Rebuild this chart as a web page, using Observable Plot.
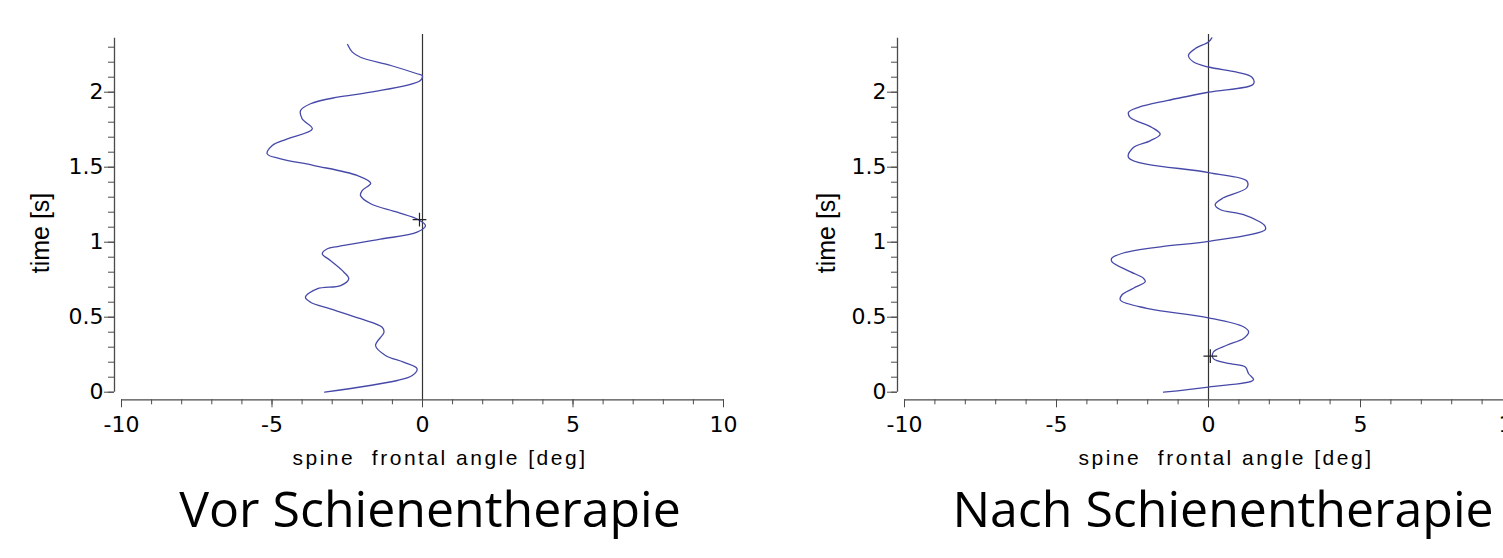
<!DOCTYPE html>
<html><head><meta charset="utf-8">
<script src="https://cdn.jsdelivr.net/npm/d3@7"></script>
<script src="https://cdn.jsdelivr.net/npm/@observablehq/plot@0.6"></script>
<style>
html,body{margin:0;padding:0;background:#fff;overflow:hidden;}
#page{position:relative;width:1503px;height:558px;overflow:hidden;background:#fff;}
#page > svg{position:absolute;}
</style></head><body><div id="page"></div>
<script>
// ---- data ----
const leftTime  = [0, 0.078, 0.111, 0.156, 0.2, 0.245, 0.311, 0.40, 0.433, 0.49, 0.556, 0.6, 0.633, 0.689, 0.711, 0.756, 0.8, 0.878, 0.923, 0.956, 0.971, 1.02, 1.067, 1.11, 1.149, 1.2, 1.256, 1.311, 1.345, 1.393, 1.445, 1.511, 1.556, 1.589, 1.645, 1.689, 1.756, 1.823, 1.878, 1.923, 1.967, 2.0, 2.078, 2.111, 2.123, 2.178, 2.233, 2.267, 2.318];
const leftAngle = [-3.25, -0.84, -0.34, -0.18, -0.63, -1.23, -1.56, -1.28, -1.34, -2.06, -3.06, -3.72, -3.89, -3.5, -2.72, -2.45, -2.61, -3.06, -3.33, -3.16, -2.82, -1.4, -0.18, 0.1, -0.12, -0.84, -1.72, -2.06, -2.0, -1.72, -2.17, -3.6, -4.71, -5.16, -4.99, -4.49, -3.66, -4.0, -4.05, -3.72, -2.82, -1.72, -0.07, -0.01, -0.18, -1.05, -2.06, -2.33, -2.49];
const rightTime  = [0, 0.034, 0.083, 0.123, 0.168, 0.19, 0.224, 0.268, 0.313, 0.358, 0.402, 0.436, 0.496, 0.559, 0.615, 0.648, 0.693, 0.737, 0.76, 0.804, 0.871, 0.894, 0.928, 0.972, 1.005, 1.084, 1.11, 1.14, 1.184, 1.218, 1.251, 1.296, 1.363, 1.408, 1.464, 1.564, 1.631, 1.676, 1.72, 1.765, 1.832, 1.866, 1.899, 1.944, 2.0, 2.056, 2.1, 2.134, 2.168, 2.201, 2.245, 2.29, 2.335, 2.362];
const rightAngle = [-1.48, 0, 1.48, 1.32, 1.21, 0.71, 0.16, 0.16, 0.6, 1.15, 1.32, 1.15, 0, -2.03, -2.9, -2.85, -2.47, -2.08, -2.14, -2.58, -3.18, -3.18, -2.8, -1.48, 0, 1.87, 1.85, 1.65, 1.15, 0.38, 0.22, 0.49, 1.26, 1.26, 0, -2.63, -2.47, -1.92, -1.59, -1.86, -2.58, -2.63, -2.3, -1.37, 0, 1.48, 1.43, 0.93, 0, -0.49, -0.66, -0.44, 0, 0.11];
const leftMarker  = [{angle: -0.1, time: 1.15}];
const rightMarker = [{angle: 0.06, time: 0.24}];
const xMajorTicks = [-10, -5, 0, 5, 10];
const xMinorTicks = [-10, -9, -8, -7, -6, -5, -4, -3, -2, -1, 0, 1, 2, 3, 4, 5, 6, 7, 8, 9, 10];
const yMajorTicks = [0, 0.5, 1, 1.5, 2];
const yMinorTicks = [0, 0.1, 0.2, 0.3, 0.4, 0.5, 0.6, 0.7, 0.8, 0.9, 1, 1.1, 1.2, 1.3, 1.4, 1.5, 1.6, 1.7, 1.8, 1.9, 2, 2.1, 2.2, 2.3];
const panelTitles = ["Vor Schienentherapie", "Nach Schienentherapie"];
const xLabel = "spine  frontal angle [deg]";
const yLabel = "time [s]";

// ---- drawing ----
const page = document.getElementById("page");
const axisColor = "#4a4a4a";
const curveColor = "#4649a8";

function panel(times, angles, marker, width, marginRight) {
  const data = times.map((t, i) => ({time: t, angle: angles[i]}));
  return Plot.plot({
    width, height: 440,
    marginLeft: 121, marginRight, marginTop: 37.7, marginBottom: 48.3,
    x: {domain: [-10, 10], axis: null},
    y: {domain: [0, 2.36], axis: null},
    style: {fontFamily: "'DejaVu Sans', sans-serif", background: "transparent", overflow: "visible"},
    marks: [
      Plot.ruleX([-10], {dx: -7, stroke: axisColor, strokeWidth: 1.3}),
      Plot.ruleY([0], {dy: 7.6, stroke: axisColor, strokeWidth: 1.3}),
      Plot.axisX({ticks: xMinorTicks, tickSize: 5, tickFormat: () => "", label: null, dy: 7.6, stroke: axisColor}),
      Plot.axisX({ticks: xMajorTicks, tickSize: 8, tickPadding: 9, dy: 7.6, stroke: axisColor, fill: "#000",
                  fontSize: 22, label: null, tickFormat: d => String(d)}),
      Plot.axisY({ticks: yMinorTicks, tickSize: 6, tickFormat: () => "", label: null, dx: -7, stroke: axisColor}),
      Plot.axisY({ticks: yMajorTicks, tickSize: 10, tickPadding: 1, dx: -7, stroke: axisColor, fill: "#000",
                  fontSize: 22, label: null, tickFormat: d => String(d)}),
      Plot.ruleX([0], {y1: -0.05, y2: 2.385, stroke: "#333", strokeWidth: 1.2}),
      Plot.line(data, {x: "angle", y: "time", stroke: curveColor, strokeWidth: 1.3, curve: "catmull-rom"}),
      Plot.dot(marker, {x: "angle", y: "time", symbol: "plus", r: 4.5, stroke: "#222", strokeWidth: 1.2})
    ]
  });
}

const left = panel(leftTime, leftAngle, leftMarker, 760, 37);
left.style.left = "0px"; left.style.top = "0px";
page.appendChild(left);
const right = panel(rightTime, rightAngle, rightMarker, 766, 37);
right.style.left = "783px"; right.style.top = "0px";
page.appendChild(right);

// labels and titles
const ns = "http://www.w3.org/2000/svg";
const ov = document.createElementNS(ns, "svg");
ov.setAttribute("width", 1503); ov.setAttribute("height", 558);
ov.style.left = "0px"; ov.style.top = "0px";
page.appendChild(ov);
function txt(str, x, y, attrs) {
  const t = document.createElementNS(ns, "text");
  t.setAttribute("x", x); t.setAttribute("y", y);
  for (const k in attrs) t.setAttribute(k, attrs[k]);
  t.setAttribute("style", "white-space:pre");
  t.textContent = str;
  ov.appendChild(t);
}
const offsets = [0, 786];
offsets.forEach((o, i) => {
  txt(yLabel, 0, 0, {"font-family": "'Liberation Sans', Arial, sans-serif", "font-size": 25, "text-anchor": "middle",
      "dominant-baseline": "central", transform: `translate(${40 + o},233) rotate(-90)`});
  txt(xLabel, 440 + o, 465, {"font-family": "'Liberation Sans', Arial, sans-serif", "font-size": 21, "letter-spacing": 2.5,
      "text-anchor": "middle"});
  txt(panelTitles[i], (i === 0 ? 430 : 1223), 527, {"font-family": "'Open Sans', sans-serif", "font-size": 50,
      "text-anchor": "middle"});
});
</script></body></html>
